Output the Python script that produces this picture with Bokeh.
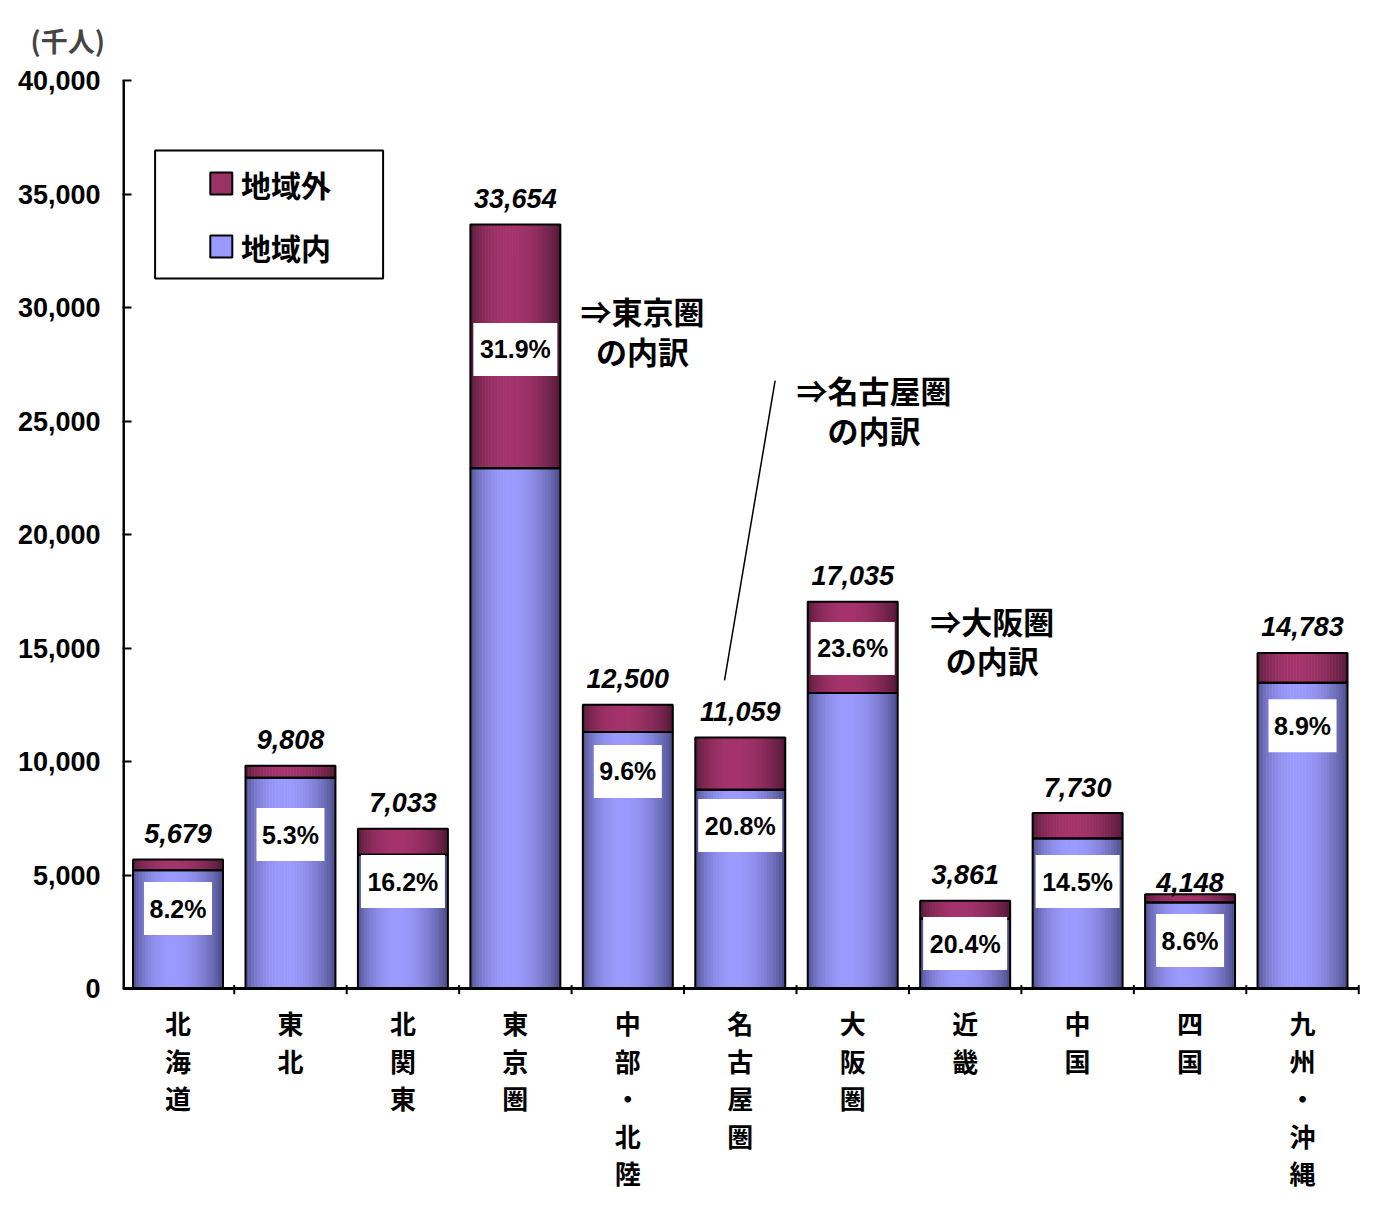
import math
from bokeh.plotting import figure
from bokeh.models import FixedTicker, NumeralTickFormatter, Range1d
from bokeh.core.properties import value
from bokeh.embed import file_html
from bokeh.resources import INLINE

# regions (千人)
regions = ["北海道", "東北", "北関東", "東京圏", "中部・北陸", "名古屋圏",
           "大阪圏", "近畿", "中国", "四国", "九州・沖縄"]
inside = [5213, 9288, 5894, 22918, 11300, 8759, 13015, 3073, 6609, 3791, 13467]
outside = [466, 520, 1139, 10736, 1200, 2300, 4020, 788, 1121, 357, 1316]
totals = [5679, 9808, 7033, 33654, 12500, 11059, 17035, 3861, 7730, 4148, 14783]
shares = ["8.2%", "5.3%", "16.2%", "31.9%", "9.6%", "20.8%",
          "23.6%", "20.4%", "14.5%", "8.6%", "8.9%"]
y_ticks = [0, 5000, 10000, 15000, 20000, 25000, 30000, 35000, 40000]

# where the share boxes sit (chart units)
share_y = [3520, 6780, 4710, 28150, 9560, 7180, 14980, 1980, 4710, 2110, 11580]

JP = "Noto Sans CJK JP"
EN = "Liberation Sans"

xs = list(range(len(regions)))
bar_w = 0.8

p = figure(width=1384, height=1209, output_backend="svg", toolbar_location=None,
           title="(千人)",
           x_range=Range1d(-0.4936, 10.729), y_range=Range1d(-9735, 40881),
           min_border_left=122, min_border_right=0, min_border_top=60,
           min_border_bottom=0, x_axis_location=None, tools="")
p.outline_line_color = None
p.grid.visible = False
p.title.text_font = JP
p.title.text_font_style = "bold"
p.title.text_font_size = "27px"
p.title.align = "left"
p.title.offset = -92
p.title.standoff = 2

# y axis
ax = p.yaxis[0]
ax.ticker = FixedTicker(ticks=y_ticks)
ax.formatter = NumeralTickFormatter(format="0,0")
ax.axis_line_color = None
ax.major_tick_in = 9
ax.major_tick_out = 0
ax.major_tick_line_width = 2
ax.minor_tick_line_color = None
ax.major_label_standoff = 22
ax.major_label_text_font = EN
ax.major_label_text_font_style = "bold"
ax.major_label_text_font_size = "27px"
ax.major_label_text_color = "black"


def shade(light, dark, u):
    f = math.sin(math.pi * (u ** 0.85)) ** 0.7
    f = 0.15 + 0.85 * f
    c = [int(dark[k] + (light[k] - dark[k]) * f) for k in range(3)]
    return "#%02x%02x%02x" % tuple(c)


# shaded bars drawn as thin strips
n = 30
sw = bar_w / n
for j in range(n):
    u = (j + 0.5) / n
    off = -bar_w / 2 + (j + 0.5) * sw
    xj = [x + off for x in xs]
    p.vbar(x=xj, bottom=0, top=inside, width=sw * 1.2,
           fill_color=shade((155, 155, 255), (55, 55, 105), u), line_color=None)
    p.vbar(x=xj, bottom=inside, top=totals, width=sw * 1.2,
           fill_color=shade((165, 52, 108), (60, 18, 40), u), line_color=None)

p.vbar(x=xs, bottom=0, top=inside, width=bar_w, fill_color=None,
       line_color="black", line_width=2)
p.vbar(x=xs, bottom=inside, top=totals, width=bar_w, fill_color=None,
       line_color="black", line_width=2)

# axis lines
p.segment(x0=[-0.485], y0=[0], x1=[-0.485], y1=[40000], line_color="black", line_width=3)
p.segment(x0=[-0.485], y0=[0], x1=[10.5], y1=[0], line_color="black", line_width=3)
bx = [x + 0.5 for x in xs]
p.segment(x0=bx, y0=[150] * len(bx), x1=bx, y1=[-250] * len(bx),
          line_color="black", line_width=2)

# totals above bars
tot_off = [-26] * len(xs)
tot_off[9] = -12
p.text(x=xs, y=totals, text=[f"{t:,}" for t in totals], y_offset=tot_off,
       text_font=value(EN), text_font_style="bold italic", text_font_size="27px",
       text_align="center", text_baseline="middle", text_color="black")

# share boxes
box_w = [68 if len(s) == 4 else 84 for s in shares]
p.rect(x=xs, y=share_y, width=box_w, height=53, width_units="screen",
       height_units="screen", fill_color="white", line_color=None)
p.text(x=xs, y=share_y, text=shares, text_font=value(EN), text_font_style="bold",
       text_font_size="25px", text_align="center", text_baseline="middle",
       text_color="black")

# category labels, written top to bottom
p.text(x=xs, y=[-700] * len(xs), text=["\n".join(r) for r in regions],
       text_font=value(JP), text_font_style="bold", text_font_size="26px",
       text_align="center", text_baseline="top", line_height=1.01,
       text_color="black")

# breakdown notes
p.text(x=[4.13, 6.19, 7.24], y=[28990, 25500, 15350],
       text=["⇒東京圏\nの内訳", "⇒名古屋圏\nの内訳", "⇒大阪圏\nの内訳"],
       text_font=value(JP), text_font_style="bold", text_font_size="31px",
       text_align="center", text_baseline="middle", line_height=0.88,
       text_color="black")
p.segment(x0=[4.86], y0=[13570], x1=[5.31], y1=[26780], line_color="black",
          line_width=1.5)

# legend box
p.rect(x=[0.81], y=[34095], width=228, height=128, width_units="screen",
       height_units="screen", fill_color="white", line_color="black", line_width=2)
p.rect(x=[0.385, 0.385], y=[35460, 32685], width=22, height=22,
       width_units="screen", height_units="screen",
       fill_color=["#993366", "#9999ff"], line_color="black", line_width=2)
p.text(x=[0.56, 0.56], y=[35460, 32685], text=["地域外", "地域内"],
       text_font=value(JP), text_font_style="bold", text_font_size="30px",
       text_align="left", text_baseline="middle", text_color="black")

open("out.html", "w").write(file_html(p, INLINE))
